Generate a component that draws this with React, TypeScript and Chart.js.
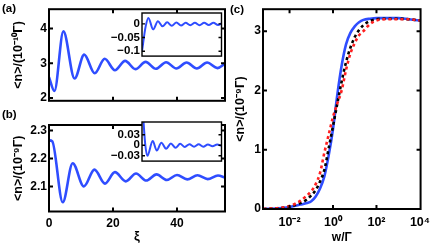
import React, { useEffect, useRef } from 'react';
import { Chart, registerables } from 'chart.js';

Chart.register(...registerables);

const FONT = "'Liberation Sans', Arial, Helvetica, sans-serif";
const BLUE = '#2f4dff';
const RED = '#ff1f1f';
const BLACK = '#000000';

// ---------- panel (a) ----------
const xiA = [0, 1.7, 4.5, 8.0, 11.0, 14.3, 17.4, 20.6, 23.8, 27.0, 30.2, 33.4, 36.6, 39.8, 43.0, 46.2, 49.4, 52.6, 55];
const nA = [2.6, 2.2, 3.92, 2.56, 3.25, 2.71, 3.13, 2.8, 3.07, 2.83, 3.04, 2.84, 3.03, 2.85, 3.02, 2.85, 3.02, 2.86, 2.99];
const yTicksA = [2, 3, 4];
const yLabelsA = ['2', '3', '4'];

// inset of (a)
const xiInsetA = [0, 2.5, 4.4, 7.7, 11.0, 14.2, 17.4, 20.6, 23.8, 27.0, 30.2, 33.4, 36.6, 39.8, 43.0, 46.2, 49.4, 52.6, 55];
const dInsetA = [-0.1, -0.01, 0.022, -0.02, 0.01, -0.009, 0.006, -0.007, 0.005, -0.006, 0.004, -0.005, 0.004, -0.005, 0.004, -0.004, 0.004, -0.004, 0.002];
const yTicksInsetA = [0, -0.05, -0.1];
const yLabelsInsetA = ['0', '\u22120.05', '\u22120.1'];

// ---------- panel (b) ----------
const xiB = [0, 1.0, 4.3, 7.4, 10.9, 14.2, 17.5, 20.6, 24.0, 27.2, 30.4, 33.6, 36.8, 40.0, 43.2, 46.4, 49.6, 52.8, 55];
const nB = [2.265, 2.262, 2.043, 2.183, 2.1, 2.16, 2.11, 2.151, 2.118, 2.146, 2.121, 2.143, 2.123, 2.141, 2.125, 2.14, 2.126, 2.139, 2.132];
const yTicksB = [2.1, 2.2, 2.3];
const yLabelsB = ['2.1', '2.2', '2.3'];

// inset of (b)
const xiInsetB = [0, 1.0, 2.3, 3.7, 7.4, 10.2, 13.4, 16.7, 20.0, 23.2, 26.4, 29.6, 32.8, 36.0, 39.2, 42.4, 45.6, 48.8, 52.0, 55];
const dInsetB = [0.135, 0.07, 0.0, -0.03, 0.012, -0.015, 0.007, -0.01, 0.005, -0.007, 0.004, -0.005, 0.003, -0.004, 0.003, -0.004, 0.002, -0.003, 0.002, -0.002];
const yTicksInsetB = [0.03, 0, -0.03];
const yLabelsInsetB = ['0.03', '0', '\u22120.03'];

const xiTicks = [0, 20, 40];
const xiLabels = ['0', '20', '40'];

// ---------- panel (c) ----------
const wC = [0.00063, 0.001, 0.0032, 0.01, 0.032, 0.063, 0.1, 0.16, 0.25, 0.4, 0.63, 1, 1.58, 2.5, 4, 6.3, 10, 15.8, 25, 50, 100, 316, 1000, 3162, 10000];
const nBlue = [0, 0.003, 0.012, 0.035, 0.075, 0.1, 0.13, 0.21, 0.34, 0.55, 0.9, 1.35, 1.93, 2.42, 2.78, 2.97, 3.08, 3.15, 3.19, 3.21, 3.22, 3.22, 3.22, 3.2, 3.18];
const nBlack = [0, 0.003, 0.012, 0.04, 0.1, 0.16, 0.23, 0.32, 0.46, 0.66, 1.02, 1.4, 1.78, 2.15, 2.48, 2.72, 2.9, 3.02, 3.1, 3.17, 3.2, 3.21, 3.21, 3.2, 3.18];
const nRed = [0, 0.004, 0.018, 0.05, 0.14, 0.23, 0.3, 0.42, 0.6, 0.95, 1.25, 1.55, 1.78, 2.0, 2.35, 2.62, 2.8, 2.93, 3.0, 3.12, 3.18, 3.2, 3.2, 3.2, 3.18];
const yTicksC = [0, 1, 2, 3];
const yLabelsC = ['0', '1', '2', '3'];
const wTicks = [0.01, 1, 100, 10000];
const wLabels = ['10\u207B\u00B2', '10\u2070', '10\u00B2', '10\u2074'];

const bold = (size: number) => ({ family: FONT, size, weight: 'bold' as const });

const points = (xs: number[], ys: number[]) => xs.map((x, i) => ({ x, y: ys[i] }));

const fixedTicks = (values: number[]) => (scale: any) => {
  scale.ticks = values.map((value) => ({ value }));
};
const labelsFrom = (labels: string[]) => (_v: any, i: number) => labels[i];

const framePlugin = {
  id: 'frame',
  beforeDraw(chart: any, _a: any, opts: any) {
    if (!opts || !opts.fill) return;
    const { ctx, chartArea } = chart;
    ctx.save();
    ctx.fillStyle = '#ffffff';
    ctx.fillRect(chartArea.left, chartArea.top, chartArea.right - chartArea.left, chartArea.bottom - chartArea.top);
    ctx.restore();
  },
  afterDraw(chart: any, _a: any, opts: any) {
    const { ctx, chartArea } = chart;
    const { left, right, top, bottom } = chartArea;
    const xs = chart.scales.x;
    const ys = chart.scales.y;
    const L = opts.tick ?? 4;
    ctx.save();
    ctx.strokeStyle = '#000';
    ctx.lineWidth = opts.lw ?? 2;
    ctx.beginPath();
    if (opts.xticks !== false) {
      for (const t of xs.ticks) {
        const p = xs.getPixelForValue(t.value);
        if (p <= left + 1 || p >= right - 1) continue;
        ctx.moveTo(p, bottom);
        ctx.lineTo(p, bottom - L);
        ctx.moveTo(p, top);
        ctx.lineTo(p, top + L);
      }
    }
    for (const t of ys.ticks) {
      const p = ys.getPixelForValue(t.value);
      if (p <= top + 1 || p >= bottom - 1) continue;
      ctx.moveTo(left, p);
      ctx.lineTo(left + L, p);
      ctx.moveTo(right, p);
      ctx.lineTo(right - L, p);
    }
    ctx.stroke();
    ctx.strokeRect(left, top, right - left, bottom - top);
    ctx.restore();
  },
};

const noGrid = { display: false, drawTicks: false };
const noBorder = { display: false };

function configA() {
  return {
    type: 'line',
    data: { datasets: [{ data: points(xiA, nA), borderColor: BLUE, borderWidth: 2.6, pointRadius: 0, cubicInterpolationMode: 'monotone', clip: 0 }] },
    options: {
      animation: false, responsive: false, events: [],
      layout: { padding: { left: 2, top: 0, right: 3, bottom: 0 } },
      plugins: {
        legend: { display: false }, tooltip: { enabled: false },
        title: { display: true, text: '(a)', align: 'start', color: '#000', font: bold(11.5), padding: { top: 0, bottom: -6.8 } },
        frame: { lw: 2, tick: 4 },
      },
      scales: {
        x: { type: 'linear', min: 0, max: 55, afterBuildTicks: fixedTicks(xiTicks), ticks: { display: false }, grid: noGrid, border: noBorder, afterFit: (s: any) => { s.height = 8; } },
        y: {
          type: 'linear', min: 1.917, max: 4.56, afterBuildTicks: fixedTicks(yTicksA),
          ticks: { callback: labelsFrom(yLabelsA), color: '#000', font: bold(12), padding: 2 },
          grid: noGrid, border: noBorder,
          title: { display: true, text: '<n>/(10\u207B\u00B9\u2070\u0393)', color: '#000', font: bold(12.5), padding: { top: 9, bottom: 0 } },
          afterFit: (s: any) => { s.width = 47; },
        },
      },
    },
    plugins: [framePlugin],
  };
}

function configInsetA() {
  return {
    type: 'line',
    data: { datasets: [{ data: points(xiInsetA, dInsetA), borderColor: BLUE, borderWidth: 2, pointRadius: 0, cubicInterpolationMode: 'monotone', clip: 0 }] },
    options: {
      animation: false, responsive: false, events: [],
      layout: { padding: { left: 0, top: 13, right: 2.5, bottom: 0 } },
      plugins: { legend: { display: false }, tooltip: { enabled: false }, frame: { lw: 1.4, tick: 3, fill: true, xticks: false } },
      scales: {
        x: { type: 'linear', min: 0, max: 55, afterBuildTicks: fixedTicks(xiTicks), ticks: { display: false }, grid: noGrid, border: noBorder, afterFit: (s: any) => { s.height = 8; } },
        y: {
          type: 'linear', min: -0.118, max: 0.04, afterBuildTicks: fixedTicks(yTicksInsetA),
          ticks: { callback: labelsFrom(yLabelsInsetA), color: '#000', font: bold(11.5), padding: 2 },
          grid: noGrid, border: noBorder,
          afterFit: (s: any) => { s.width = 42; },
        },
      },
    },
    plugins: [framePlugin],
  };
}

function configB() {
  return {
    type: 'line',
    data: { datasets: [{ data: points(xiB, nB), borderColor: BLUE, borderWidth: 2.6, pointRadius: 0, cubicInterpolationMode: 'monotone', clip: 0 }] },
    options: {
      animation: false, responsive: false, events: [],
      layout: { padding: { left: 2, top: 0, right: 3, bottom: 0 } },
      plugins: {
        legend: { display: false }, tooltip: { enabled: false },
        title: { display: true, text: '(b)', align: 'start', color: '#000', font: bold(11.5), padding: { top: 0, bottom: 3.2 } },
        frame: { lw: 2, tick: 4 },
      },
      scales: {
        x: {
          type: 'linear', min: 0, max: 55, afterBuildTicks: fixedTicks(xiTicks),
          ticks: { callback: labelsFrom(xiLabels), color: '#000', font: bold(12), padding: 5, maxRotation: 0 },
          grid: noGrid, border: noBorder,
          title: { display: true, text: '\u03BE', color: '#000', font: bold(13), padding: { top: 0, bottom: 1 } },
          afterFit: (s: any) => { s.height = 33.5; },
        },
        y: {
          type: 'linear', min: 2.01, max: 2.32, afterBuildTicks: fixedTicks(yTicksB),
          ticks: { callback: labelsFrom(yLabelsB), color: '#000', font: bold(12), padding: 2 },
          grid: noGrid, border: noBorder,
          title: { display: true, text: '<n>/(10\u207B\u2079\u0393)', color: '#000', font: bold(12.5), padding: { top: 9, bottom: 0 } },
          afterFit: (s: any) => { s.width = 47; },
        },
      },
    },
    plugins: [framePlugin],
  };
}

function configInsetB() {
  return {
    type: 'line',
    data: { datasets: [{ data: points(xiInsetB, dInsetB), borderColor: BLUE, borderWidth: 2, pointRadius: 0, cubicInterpolationMode: 'monotone', clip: 0 }] },
    options: {
      animation: false, responsive: false, events: [],
      layout: { padding: { left: 0, top: 12, right: 2.5, bottom: 0 } },
      plugins: { legend: { display: false }, tooltip: { enabled: false }, frame: { lw: 1.4, tick: 3, fill: true, xticks: false } },
      scales: {
        x: { type: 'linear', min: 0, max: 55, afterBuildTicks: fixedTicks(xiTicks), ticks: { display: false }, grid: noGrid, border: noBorder, afterFit: (s: any) => { s.height = 3.5; } },
        y: {
          type: 'linear', min: -0.045, max: 0.066, afterBuildTicks: fixedTicks(yTicksInsetB),
          ticks: { callback: labelsFrom(yLabelsInsetB), color: '#000', font: bold(11.5), padding: 2 },
          grid: noGrid, border: noBorder,
          afterFit: (s: any) => { s.width = 42; },
        },
      },
    },
    plugins: [framePlugin],
  };
}

function configC() {
  return {
    type: 'line',
    data: {
      datasets: [
        { data: points(wC, nRed), borderColor: RED, borderWidth: 2.6, borderDash: [3, 3], pointRadius: 0, cubicInterpolationMode: 'monotone', clip: 0, order: 0 },
        { data: points(wC, nBlack), borderColor: BLACK, borderWidth: 2.6, borderDash: [3, 3], pointRadius: 0, cubicInterpolationMode: 'monotone', clip: 0, order: 1 },
        { data: points(wC, nBlue), borderColor: BLUE, borderWidth: 2.6, pointRadius: 0, cubicInterpolationMode: 'monotone', clip: 0, order: 2 },
      ],
    },
    options: {
      animation: false, responsive: false, events: [],
      layout: { padding: { left: 2, top: 0, right: 8, bottom: 0 } },
      plugins: {
        legend: { display: false }, tooltip: { enabled: false },
        title: { display: true, text: '(c)', align: 'start', color: '#000', font: bold(11.5), padding: { top: 1, bottom: -7.8 } },
        frame: { lw: 2, tick: 4 },
      },
      scales: {
        x: {
          type: 'logarithmic', min: Math.pow(10, -3.2), max: Math.pow(10, 4.03), afterBuildTicks: fixedTicks(wTicks),
          ticks: { callback: labelsFrom(wLabels), color: '#000', font: bold(12.5), padding: 6, maxRotation: 0, autoSkip: false },
          grid: noGrid, border: noBorder,
          title: { display: true, text: 'w/\u0393', color: '#000', font: bold(12), padding: { top: 0, bottom: 0 } },
          afterFit: (s: any) => { s.height = 36; },
        },
        y: {
          type: 'linear', min: 0, max: 3.37, afterBuildTicks: fixedTicks(yTicksC),
          ticks: { callback: labelsFrom(yLabelsC), color: '#000', font: bold(12), padding: 2 },
          grid: noGrid, border: noBorder,
          title: { display: true, text: '<n>/(10\u207B\u2079\u0393)', color: '#000', font: bold(12.5), padding: { top: 3.5, bottom: 0 } },
          afterFit: (s: any) => { s.width = 33; },
        },
      },
    },
    plugins: [framePlugin],
  };
}

function ChartBox({ left, top, width, height, make }: { left: number; top: number; width: number; height: number; make: () => any }) {
  const ref = useRef<HTMLCanvasElement>(null);
  useEffect(() => {
    const chart = new Chart(ref.current as HTMLCanvasElement, make());
    return () => chart.destroy();
  }, []);
  return (
    <div style={{ position: 'absolute', left, top, width, height }}>
      <canvas ref={ref} width={width} height={height} style={{ width, height, display: 'block' }} />
    </div>
  );
}

export default function App() {
  return (
    <div style={{ position: 'absolute', left: 0, top: 0, width: 436, height: 245, background: '#fff', overflow: 'hidden' }}>
      <ChartBox left={0} top={0} width={228} height={110} make={configA} />
      <ChartBox left={0} top={108} width={228} height={137} make={configB} />
      <ChartBox left={228} top={0} width={208} height={245} make={configC} />
      <ChartBox left={100} top={0} width={124} height={65} make={configInsetA} />
      <ChartBox left={100} top={110} width={124} height={60} make={configInsetB} />
    </div>
  );
}
